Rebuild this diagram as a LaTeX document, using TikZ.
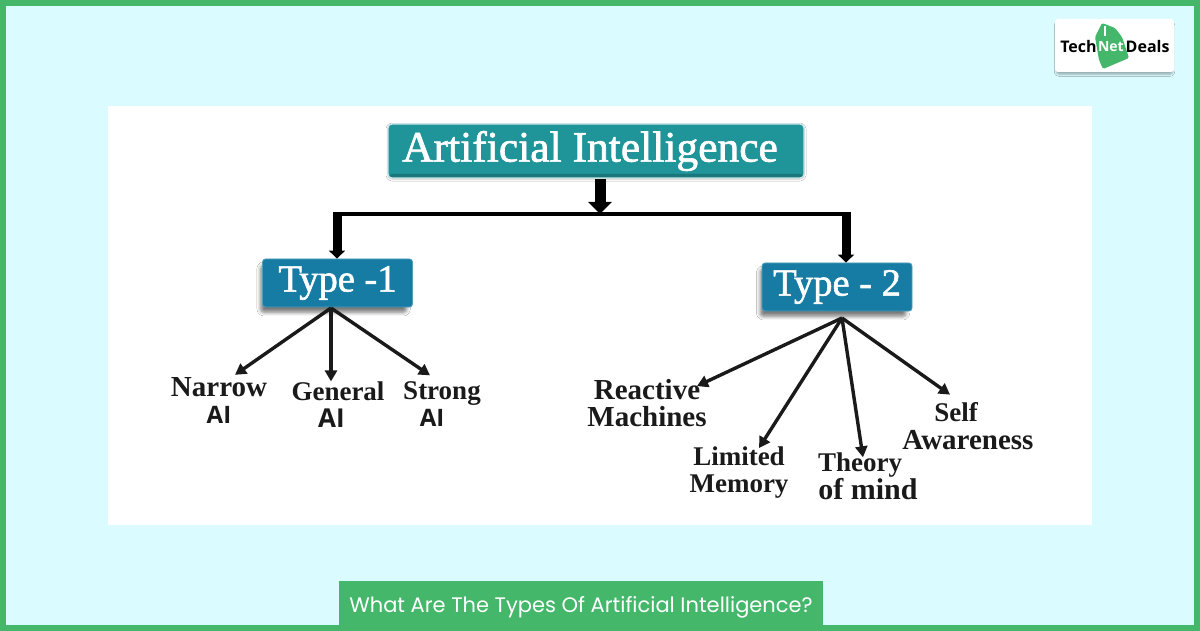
\documentclass[tikz,border=0pt]{standalone}
\usepackage{fontspec}
\setmainfont{Liberation Serif}
\setsansfont{Open Sans}
\newfontfamily\captionfont{Poppins}
\newfontfamily\boxfont[FakeBold=1.5]{Liberation Serif}
\usetikzlibrary{arrows.meta,positioning,shadows,shadows.blur}

\definecolor{framegreen}{HTML}{44B76A}
\definecolor{pagecyan}{HTML}{DAFBFF}
\definecolor{titleteal}{HTML}{1F9499}
\definecolor{typeblue}{HTML}{177CA3}
\definecolor{inkblack}{HTML}{1A1A1A}

\begin{document}
\begin{tikzpicture}
  [x=1pt,y=-1pt,
   titlebox/.style={rounded corners=4pt,fill=titleteal,draw=white!75!titleteal,line width=1.2pt,
     text=white,minimum width=416pt,minimum height=54pt,inner sep=0pt,
     font=\boxfont\fontsize{43.5}{43.5}\selectfont,
     blur shadow={shadow xshift=0pt,shadow yshift=-1pt,shadow blur radius=2pt,shadow opacity=25},
     path picture={\fill[titleteal!80!black] (path picture bounding box.south west)
       rectangle ([yshift=4pt]path picture bounding box.south east);}},
   typebox/.style={rounded corners=3pt,fill=typeblue,draw=typeblue!75!white,line width=.8pt,
     text=white,minimum width=150pt,minimum height=48pt,inner sep=0pt,
     font=\boxfont\fontsize{38.5}{38.5}\selectfont,
     blur shadow={shadow xshift=-4pt,shadow yshift=-6pt,shadow scale=.97,shadow blur radius=4pt,shadow opacity=55}},
   leaf/.style={inner sep=0pt,align=center,text=inkblack,font=\fontsize{29}{27}\bfseries\selectfont},
   trunk/.style={-{Triangle[length=12pt,width=23pt]},line width=11pt},
   limb/.style={-{Triangle[length=8pt,width=16pt]},line width=9pt},
   post/.style={-{Triangle[length=11pt,width=12pt]},line width=3.4pt,color=inkblack},
   logotext/.style={inner sep=0pt,font=\fontsize{16}{16}\sffamily\bfseries\selectfont}]

  \useasboundingbox (0,0) rectangle (1200,631);
  \fill[framegreen] (0,0) rectangle (1200,631);
  \fill[pagecyan] (6,6) rectangle (1194,625);
  \fill[white] (108,106) rectangle (1092,525);

  \node[fill=white,rounded corners=3pt,minimum width=119pt,minimum height=53pt,inner sep=0pt,
    blur shadow={shadow xshift=0pt,shadow yshift=-3pt,shadow scale=.98,shadow blur radius=2pt,shadow opacity=30}] (logo) at (1114.5,45.5) {};
  \fill[framegreen,rounded corners=1.5pt] (1102,23) -- (1115,28) -- (1122,37) -- (1129,58) -- (1103,69) -- (1099,60) -- (1095,37) -- cycle;
  \draw[white,line width=1.4pt] (1105,26) -- (1105,36);
  \node[logotext] (tech) at (1078.5,46.5) {Tech};
  \node[logotext,text=white,font=\fontsize{14}{14}\sffamily\bfseries\selectfont,right=1pt of tech] (net) {Net};
  \node[logotext,right=1.5pt of net] (deals) {Deals};

  \node[titlebox] (title) at (596,151) {Artificial Intelligence\hspace*{12pt}};
  \node[typebox]  (type1) at (337.5,283) {Type -1};
  \node[typebox]  (type2) at (837,287)   {Type - 2};

  \node[leaf] (narrow)   at (219,401)   {Narrow\\{\sffamily\fontsize{24}{27}\selectfont AI}};
  \node[leaf,font=\fontsize{27}{27}\bfseries\selectfont] (general)  at (338,404.5) {General\\{\sffamily\fontsize{26}{27}\selectfont AI}\hspace*{13pt}};
  \node[leaf,font=\fontsize{27}{27}\bfseries\selectfont] (strong)   at (442,404)   {Strong\\{\sffamily\fontsize{24}{27}\selectfont AI}\hspace*{20pt}};
  \node[leaf] (reactive) at (647,403)   {Reactive\\Machines};
  \node[leaf,font=\fontsize{27}{27}\bfseries\selectfont] (limited)  at (739,473)   {Limited\\Memory};
  \node[leaf,font=\fontsize{30}{26}\bfseries\selectfont] (theory)   at (868,476)   {{\fontsize{27}{26}\selectfont Theory}\hspace*{16pt}\\of mind};
  \node[leaf,font=\fontsize{29}{28}\bfseries\selectfont] (self)     at (968,426.5) {{\fontsize{27}{28}\selectfont Self}\hspace*{24pt}\\Awareness};

  \coordinate (barleft)  at (337,214);
  \coordinate (barmid)   at (600,214);
  \coordinate (barright) at (846,214);
  \coordinate (hub1)     at (331,308);
  \coordinate (hub2)     at (842,318);

  \draw[line width=4pt] (barleft) -- (barright);
  \draw[trunk] (barmid |- title.south) -- (barmid);
  \draw[limb] ([yshift=2pt]barleft) -- (barleft |- type1.north);
  \draw[limb] ([yshift=2pt]barright) -- (barright |- type2.north);

  \draw[post] (hub1) -- ([shift={(16,-3)}]narrow.north);
  \draw[post] (hub1) -- (general.north -| hub1);
  \draw[post] (hub1) -- ([shift={(-12,-6)}]strong.north);
  \draw[post] (hub2) -- ([shift={(50,7)}]reactive.north);
  \draw[post] (hub2) -- ([shift={(20,1)}]limited.north);
  \draw[post] (hub2) -- ([shift={(-5,5)}]theory.north);
  \draw[post] (hub2) -- ([shift={(-18,-8)}]self.north);

  \fill[framegreen] (339,581) rectangle (823,631);
  \node[text=white,inner sep=0pt,font=\captionfont\fontsize{21}{21}\selectfont] (caption) at (581,607) {What Are The Types Of Artificial Intelligence?};
\end{tikzpicture}
\end{document}
